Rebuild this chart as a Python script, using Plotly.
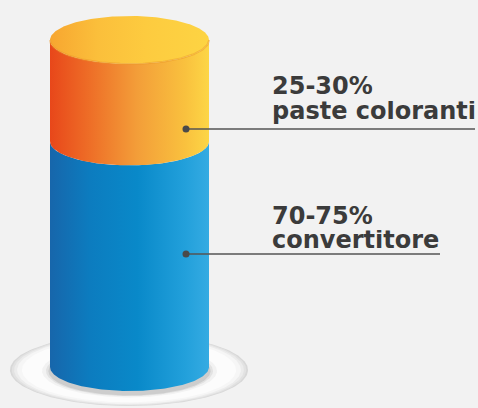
import numpy as np
import plotly.graph_objects as go

# ---- data ----
categories = ["convertitore", "paste coloranti"]
ranges = ["70-75%", "25-30%"]
shares = [69, 31]          # stacked share of the cylinder as drawn (bottom -> top)

# ---- layout constants (pixels / styles) ----
W, H = 478, 408
BG = "#f2f2f2"
CX, RX = 129.5, 79.5       # cylinder centre / half width (x axis = px)
PX_TOP, PX_BOT = 40, 367   # pixel rows of top and bottom ellipse centres
SCALE = (PX_BOT - PX_TOP) / 100.0
RY = 24 / SCALE            # ellipse half height in data units

def d(py):
    return (PX_BOT - py) / SCALE

seg_grad = [
    [[0, "#1766ab"], [0.25, "#0c7cbf"], [0.55, "#0989c9"], [0.85, "#22a0db"], [1, "#35abe2"]],
    [[0, "#e8471a"], [0.25, "#ee6e27"], [0.55, "#f39e39"], [0.85, "#f9c13e"], [1, "#fdd646"]],
]
cap_grad = [[0, "#f7a630"], [0.3, "#fbbf3b"], [0.6, "#fdcb3f"], [1, "#fdd443"]]
leader_py = [254, 129]
leader_end = [440, 475]
TEXT_X = 271
FS = 24
line_baselines = [(225, 249), (95, 120)]
FONT = "DejaVu Sans"

fig = go.Figure()
t = np.linspace(0, np.pi, 120)
tt = np.linspace(0, 2 * np.pi, 240)

# plate under cylinder
pcx, prx, pry = 129, 119, 36 / SCALE
pcy = d(370)
for k, col in [(1.0, "#d8d8d8"), (0.985, "#e2e2e2"), (0.965, "#ececec"),
               (0.94, "#f6f6f6"), (0.9, "#fcfcfc")]:
    fig.add_trace(go.Scatter(x=pcx + prx * k * np.cos(tt), y=pcy + pry * k * np.sin(tt),
                             mode="lines", line=dict(width=0), fill="toself",
                             fillcolor=col, hoverinfo="skip", showlegend=False))
# soft shadow directly under cylinder
for k, col in [(1.10, "rgba(190,190,190,0.15)"), (1.05, "rgba(170,170,170,0.22)"),
               (1.02, "rgba(150,150,150,0.28)")]:
    fig.add_trace(go.Scatter(x=CX + RX * k * np.cos(tt), y=d(PX_BOT + 4) + RY * k * np.sin(tt),
                             mode="lines", line=dict(width=0), fill="toself",
                             fillcolor=col, hoverinfo="skip", showlegend=False))

# stacked cylinder segments
base = 0
for i, v in enumerate(shares):
    lo, hi = base, base + v
    xs = np.concatenate([CX - RX * np.cos(t), CX - RX * np.cos(t[::-1])])
    ys = np.concatenate([lo - RY * np.sin(t), hi - RY * np.sin(t[::-1])])
    fig.add_trace(go.Scatter(x=xs, y=ys, mode="lines", line=dict(width=0), fill="toself",
                             fillgradient=dict(type="horizontal", colorscale=seg_grad[i]),
                             hoverinfo="skip", showlegend=False, name=categories[i]))
    base = hi

# top cap
fig.add_trace(go.Scatter(x=CX + RX * np.cos(tt), y=base + RY * np.sin(tt), mode="lines",
                         line=dict(width=0), fill="toself",
                         fillgradient=dict(type="horizontal", colorscale=cap_grad),
                         hoverinfo="skip", showlegend=False))
fig.add_trace(go.Scatter(x=CX - RX * np.cos(t), y=base - RY * np.sin(t), mode="lines",
                         line=dict(width=2, color="rgba(235,150,40,0.45)"),
                         hoverinfo="skip", showlegend=False))

# leaders, dots and labels
for i in range(len(shares)):
    yl = d(leader_py[i])
    fig.add_trace(go.Scatter(x=[186, leader_end[i]], y=[yl, yl], mode="lines",
                             line=dict(color="#555555", width=1.5),
                             hoverinfo="skip", showlegend=False))
    fig.add_trace(go.Scatter(x=[186], y=[yl], mode="markers",
                             marker=dict(color="#4a4a4a", size=7),
                             hoverinfo="skip", showlegend=False))
    for txt, bl in zip([ranges[i], categories[i]], line_baselines[i]):
        fig.add_annotation(x=TEXT_X, y=d(bl - 6.8), text=txt, showarrow=False,
                           xanchor="left", yanchor="middle", height=24, valign="bottom",
                           borderpad=0,
                           font=dict(family=FONT, size=FS, color="#3b3b3b", weight="bold"))

fig.update_layout(width=W, height=H, margin=dict(l=0, r=0, t=0, b=0),
                  paper_bgcolor=BG, plot_bgcolor=BG, showlegend=False)
fig.update_xaxes(range=[0, W], visible=False, fixedrange=True)
fig.update_yaxes(range=[d(H), d(0)], visible=False, fixedrange=True)
fig.write_html("out.html", config={"displayModeBar": False},
               post_script="document.body.style.margin='0px';"
                           "document.body.style.background='#f2f2f2';")
